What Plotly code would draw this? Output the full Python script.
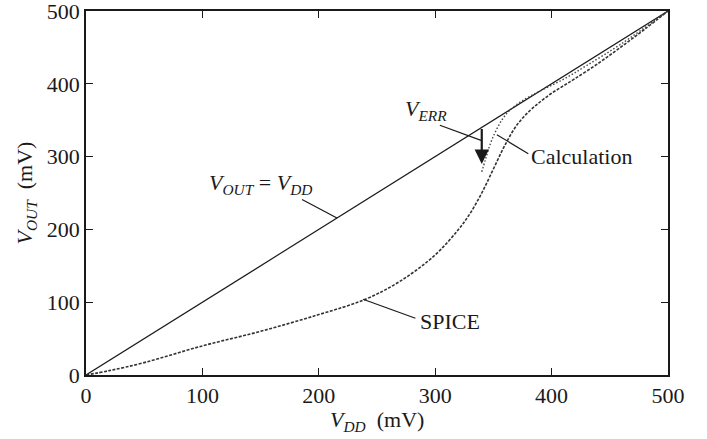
import plotly.graph_objects as go

# Ideal line
ideal_x = [0, 500]
ideal_y = [0, 500]

# SPICE simulation (mV)
spice_x = [0, 20, 50, 100, 150, 200, 240, 270, 300, 320, 330, 340, 350, 360, 370, 380, 390, 400, 410, 420, 440, 460, 480, 500]
spice_y = [0, 6, 17, 40, 60, 83, 104, 129, 165, 200, 222, 250, 283, 316, 343, 361, 375, 387, 397, 407, 428, 451, 475, 500]

# Calculation (mV)
calc_x = [340, 343, 347, 352, 358, 365, 375, 390, 410, 430, 460, 500]
calc_y = [279, 295, 316, 335, 352, 365, 377, 390, 406, 425, 455, 500]

x_ticks = [0, 100, 200, 300, 400, 500]
y_ticks = [0, 100, 200, 300, 400, 500]

FONT = "Liberation Serif, Times New Roman, Times, serif"
INK = "#1a1a1a"
FS = 22

fig = go.Figure()
fig.add_trace(go.Scatter(x=ideal_x, y=ideal_y, mode="lines",
                         line=dict(color=INK, width=1.2), hoverinfo="skip"))
fig.add_trace(go.Scatter(x=spice_x, y=spice_y, mode="lines", line_shape="spline",
                         line=dict(color="#333", width=1.6, dash="3px,1.5px", smoothing=1.0),
                         hoverinfo="skip"))
fig.add_trace(go.Scatter(x=calc_x, y=calc_y, mode="lines", line_shape="spline",
                         line=dict(color="#444", width=1.4, dash="1.5px,2px"), hoverinfo="skip"))

# leader lines
leaders = [
    ((185.6, 241), (215.6, 215.6)),   # Vout = Vdd
    ((304, 343), (340, 322)),         # Verr
    ((380, 304), (353, 330)),         # Calculation
    ((283, 78), (238, 104)),          # SPICE
]
for (x0, y0), (x1, y1) in leaders:
    fig.add_shape(type="line", x0=x0, y0=y0, x1=x1, y1=y1, xref="x", yref="y",
                  line=dict(color=INK, width=1.2))

# V_ERR arrow
fig.add_annotation(x=340, y=290, ax=340, ay=340, xref="x", yref="y", axref="x", ayref="y",
                   text="", showarrow=True, arrowhead=2, arrowsize=1.3, arrowwidth=2.2,
                   arrowcolor=INK, standoff=0)

labels = [
    (150, 262, "<i>V</i><sub><i>OUT</i></sub> = <i>V</i><sub><i>DD</i></sub>", "center"),
    (272, 364, "<i>V</i><sub><i>ERR</i></sub>", "left"),
    (381, 300, "Calculation", "left"),
    (285, 74, "SPICE", "left"),
]
for x, y, t, xa in labels:
    fig.add_annotation(x=x, y=y, xref="x", yref="y", text=t, showarrow=False,
                       xanchor=xa, yanchor="middle",
                       font=dict(family=FONT, size=FS, color=INK))

# x-axis title as paper annotation
fig.add_annotation(x=0.5, y=-0.125, xref="paper", yref="paper",
                   text="<i>V</i><sub><i>DD</i></sub>  (mV)", showarrow=False,
                   xanchor="center", yanchor="middle",
                   font=dict(family=FONT, size=FS, color=INK))

axis_common = dict(
    showline=True, linecolor=INK, linewidth=1.6, mirror="ticks",
    ticks="inside", ticklen=7, tickwidth=1.3, tickcolor=INK,
    showgrid=False, zeroline=False, automargin=False,
    ticklabeloverflow="allow",
    tickfont=dict(family=FONT, size=FS, color=INK),
)
fig.update_xaxes(range=[0, 500], tickvals=x_ticks, ticktext=[str(v) for v in x_ticks],
                 **axis_common)
fig.update_yaxes(range=[0, 500], tickvals=y_ticks, ticktext=[str(v) for v in y_ticks],
                 title=dict(text="<i>V</i><sub><i>OUT</i></sub>  (mV)", standoff=8,
                            font=dict(family=FONT, size=FS, color=INK)),
                 **axis_common)

fig.update_layout(
    width=707, height=439,
    margin=dict(l=86, r=39, t=11, b=64),
    paper_bgcolor="white", plot_bgcolor="white",
    showlegend=False,
)

fig.write_html("out.html")
